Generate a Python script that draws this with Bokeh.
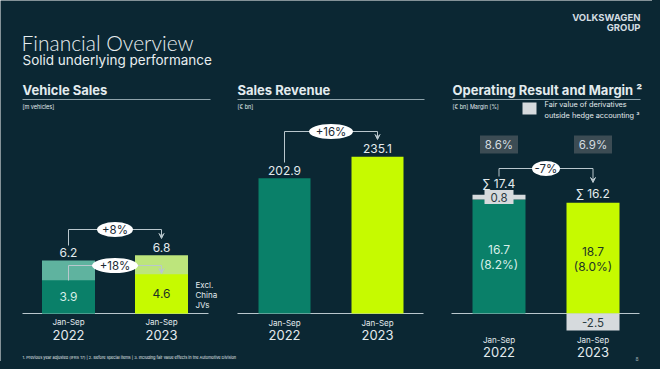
from bokeh.plotting import figure
from bokeh.models import Range1d, Arrow, VeeHead
from bokeh.core.properties import value
from bokeh.embed import file_html
from bokeh.resources import INLINE

# ---------------- data ----------------
periods = ["Jan-Sep", "Jan-Sep"]
years = ["2022", "2023"]
vehicle_total = [6.2, 6.8]
vehicle_excl_china = [3.9, 4.6]
vehicle_change = "+8%"
vehicle_excl_change = "+18%"
revenue = [202.9, 235.1]
revenue_change = "+16%"
op_underlying = [16.7, 18.7]
op_underlying_margin = ["(8.2%)", "(8.0%)"]
op_fair_value = [0.8, -2.5]
op_total = [17.4, 16.2]
op_total_margin = ["8.6%", "6.9%"]
op_change = "-7%"

# ---------------- style ----------------
BG = "#0b2733"
FONT = value("Inter")
WHITE = "#e3ebee"
TEAL = "#0a8069"
TEAL_L = "#5fb39f"
LIME = "#c6fa00"
LIME_L = "#bde57c"
GRAY = "#d6dadd"
DARK_TXT = "#1d3424"
LINE = "#b9c7cd"

W, H = 652, 361
p = figure(width=W, height=H, x_range=Range1d(0, W), y_range=Range1d(H, 0),
           output_backend="svg", toolbar_location=None, min_border=0,
           x_axis_location=None, y_axis_location=None)
p.grid.visible = False
p.outline_line_color = None
p.background_fill_color = BG
p.border_fill_color = BG
p.styles = {"box-shadow": "0 0 0 20px " + BG}


def xr(c0, c1):
    k = c1 - c0
    return Range1d((0 - c0) / k, (W - c0) / k)


def yr(base, ppu):
    return Range1d((base - H) / ppu, (base - 0) / ppu)


p.extra_x_ranges = {"vx": xr(68, 161), "rx": xr(284, 377), "ox": xr(498.5, 592.5)}
p.extra_y_ranges = {"vy": yr(313, 8.55), "ry": yr(313, 0.667), "oy": yr(313, 6.83)}
idx = [0, 1]


def txt(x, y, t, size, color=WHITE, align="left", style="normal", baseline="middle", font=FONT, **kw):
    p.text(x=x, y=y, text=t, text_font=font, text_font_size=size, text_color=color,
           text_align=align, text_baseline=baseline, text_font_style=style, **kw)


# ---------------- header ----------------
txt([21], [42], ["Financial Overview"], "21px", font=value("Lato Light, Lato, Inter"), color="#e8eef0")
txt([22], [59], ["Solid underlying performance"], "13.5px", color="#e8eef0")
txt([640], [17], ["VOLKSWAGEN"], "9.5px", style="bold", align="right", color="#d3dde1")
txt([640], [27], ["GROUP"], "9.5px", style="bold", align="right", color="#d3dde1")

for x0, x1, head, unit in [(22, 210, "Vehicle Sales", "[m vehicles]"),
                           (237, 424, "Sales Revenue", "[€ bn]"),
                           (452, 640, "Operating Result and Margin ²", "[€ bn] Margin [%]")]:
    txt([x0], [89], [head], "13px", style="bold")
    p.line([x0, x1], [99, 99], line_color="#8fa3ab", line_width=1)
    txt([x0], [106], [unit], "5.5px")

# legend for fair value
p.rect(x=[529], y=[108], width=14, height=12, fill_color=GRAY, line_color=None)
txt([544], [104], ["Fair value of derivatives"], "7.3px")
txt([544], [115], ["outside hedge accounting ³"], "7.3px")

txt([22], [357], ["1. Previous year adjusted (IFRS 17) | 2. Before special items | 3. Including fair value effects in the Automotive Division"], "3.9px")
txt([638], [358], ["8"], "5px", color="#9aa8ae", align="right")

# baselines
for x0, x1 in [(22, 208), (237, 423), (451, 639)]:
    p.line([x0, x1], [313, 313], line_color=LINE, line_width=1)


def xlabels(rname, y1, y2):
    txt(idx, [y1, y1], periods, "8px", align="center", x_range_name=rname)
    txt(idx, [y2, y2], years, "13px", align="center", x_range_name=rname)


def bracket(rname, y_from, y_top, y_arrow, label, ew):
    p.line([0, 0, 1], [y_from, y_top, y_top], line_color=LINE, line_width=1, x_range_name=rname)
    p.add_layout(Arrow(end=VeeHead(size=5, line_color=LINE, fill_color=LINE, line_width=1),
                       x_start=1, y_start=y_top, x_end=1, y_end=y_arrow,
                       line_color=LINE, line_width=1, x_range_name=rname))
    p.ellipse(x=[0.5], y=[y_top], width=ew, height=15, width_units="screen", height_units="screen",
              fill_color="white", line_color=None, x_range_name=rname)
    txt([0.5], [y_top], [label], "11.5px", color="#1a2a33", align="center", x_range_name=rname)


# ---------------- panel 1: vehicle sales ----------------
vw = 53 / 93
p.vbar(x=idx, top=vehicle_total, bottom=0, width=vw, fill_color=[TEAL_L, LIME_L], line_color=None,
       x_range_name="vx", y_range_name="vy")
p.vbar(x=idx, top=vehicle_excl_china, bottom=0, width=vw, fill_color=[TEAL, LIME], line_color=None,
       x_range_name="vx", y_range_name="vy")
txt(idx, vehicle_total, [f"{v:.1f}" for v in vehicle_total], "12px", align="center",
    y_offset=-8, x_range_name="vx", y_range_name="vy")
txt(idx, [v / 2 for v in vehicle_excl_china], [f"{v:.1f}" for v in vehicle_excl_china], "12px",
    color=["#d7eee8", DARK_TXT], align="center", x_range_name="vx", y_range_name="vy")
txt([195, 195, 195], [284, 294, 304], ["Excl.", "China", "JVs"], "8px")
bracket("vx", 245, 229, 238, vehicle_change, 36)
bracket("vx", 280, 265, 273, vehicle_excl_change, 46)
xlabels("vx", 321, 334)

# ---------------- panel 2: sales revenue ----------------
p.vbar(x=idx, top=revenue, bottom=0, width=52 / 93, fill_color=[TEAL, LIME], line_color=None,
       x_range_name="rx", y_range_name="ry")
txt(idx, revenue, [f"{v:.1f}" for v in revenue], "12px", align="center",
    y_offset=-8, x_range_name="rx", y_range_name="ry")
bracket("rx", 162, 131, 139, revenue_change, 44)
xlabels("rx", 322, 334)

# ---------------- panel 3: operating result ----------------
ow = 53 / 94
main_top = [u if f >= 0 else t for u, f, t in zip(op_underlying, op_fair_value, op_total)]
fv_bottom = [u if f >= 0 else 0 for u, f in zip(op_underlying, op_fair_value)]
fv_top = [t if f >= 0 else f for t, f in zip(op_total, op_fair_value)]
p.vbar(x=idx, top=main_top, bottom=0, width=ow, fill_color=[TEAL, LIME], line_color=None,
       x_range_name="ox", y_range_name="oy")
p.vbar(x=idx, top=fv_top, bottom=fv_bottom, width=ow, fill_color=GRAY, line_color=None,
       x_range_name="ox", y_range_name="oy")
fv_mid = [(a + b) / 2 for a, b in zip(fv_bottom, fv_top)]
small = [i for i in idx if abs(op_fair_value[i]) * 6.83 < 12]
p.rect(x=small, y=[fv_mid[i] for i in small], width=29, height=14, width_units="screen",
       height_units="screen", fill_color=GRAY, line_color=None, x_range_name="ox", y_range_name="oy")
txt(idx, fv_mid, [f"{v:.1f}" for v in op_fair_value], "11.5px", color="#2b3a40", align="center",
    x_range_name="ox", y_range_name="oy")
txt(idx, [m / 2 for m in main_top], [f"{v:.1f}" for v in op_underlying], "12px",
    color=["#d7eee8", DARK_TXT], align="center", y_offset=-7, x_range_name="ox", y_range_name="oy")
txt(idx, [m / 2 for m in main_top], op_underlying_margin, "12px",
    color=["#d7eee8", DARK_TXT], align="center", y_offset=8, x_range_name="ox", y_range_name="oy")
txt(idx, [max(a, b) for a, b in zip(main_top, fv_top)], [f"∑ {v:.1f}" for v in op_total], "12px",
    align="center", y_offset=[-11, -9], x_range_name="ox", y_range_name="oy")
p.rect(x=idx, y=[144, 144], width=38, height=18, width_units="screen", height_units="screen",
       fill_color="#3c4c54", line_color=None, x_range_name="ox")
txt(idx, [144, 144], op_total_margin, "11.5px", color="#d5dde0", align="center", x_range_name="ox")
bracket("ox", 176, 168, 182, op_change, 28)
xlabels("ox", 339, 351)

open("out.html", "w").write(file_html(p, INLINE))
